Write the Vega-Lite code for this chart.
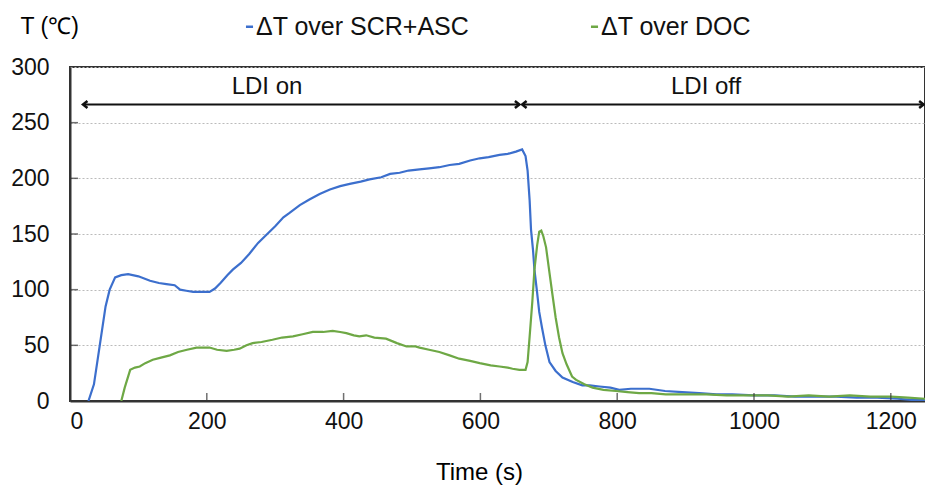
{
  "$schema": "https://vega.github.io/schema/vega-lite/v6.json",
  "width": 855,
  "height": 334,
  "autosize": {"type": "none"},
  "padding": {"left": 70, "top": 67, "right": 0, "bottom": 85},
  "background": "white",
  "config": {
    "font": "Liberation Sans",
    "view": {"stroke": "#333", "strokeWidth": 2}
  },
  "datasets": {
    "series": [
      {"t":27,"v":0,"s":"ΔT over SCR+ASC"},{"t":35,"v":15,"s":"ΔT over SCR+ASC"},{"t":44,"v":52,"s":"ΔT over SCR+ASC"},{"t":52,"v":85,"s":"ΔT over SCR+ASC"},{"t":58,"v":100,"s":"ΔT over SCR+ASC"},{"t":66,"v":111,"s":"ΔT over SCR+ASC"},{"t":75,"v":113,"s":"ΔT over SCR+ASC"},{"t":85,"v":114,"s":"ΔT over SCR+ASC"},{"t":100,"v":112,"s":"ΔT over SCR+ASC"},{"t":117,"v":108,"s":"ΔT over SCR+ASC"},{"t":130,"v":106,"s":"ΔT over SCR+ASC"},{"t":141,"v":105,"s":"ΔT over SCR+ASC"},{"t":153,"v":104,"s":"ΔT over SCR+ASC"},{"t":161,"v":100,"s":"ΔT over SCR+ASC"},{"t":170,"v":99,"s":"ΔT over SCR+ASC"},{"t":180,"v":98,"s":"ΔT over SCR+ASC"},{"t":192,"v":98,"s":"ΔT over SCR+ASC"},{"t":204,"v":98,"s":"ΔT over SCR+ASC"},{"t":212,"v":101,"s":"ΔT over SCR+ASC"},{"t":220,"v":106,"s":"ΔT over SCR+ASC"},{"t":230,"v":113,"s":"ΔT over SCR+ASC"},{"t":238,"v":118,"s":"ΔT over SCR+ASC"},{"t":250,"v":124,"s":"ΔT over SCR+ASC"},{"t":262,"v":132,"s":"ΔT over SCR+ASC"},{"t":275,"v":142,"s":"ΔT over SCR+ASC"},{"t":285,"v":148,"s":"ΔT over SCR+ASC"},{"t":300,"v":157,"s":"ΔT over SCR+ASC"},{"t":312,"v":165,"s":"ΔT over SCR+ASC"},{"t":321,"v":169,"s":"ΔT over SCR+ASC"},{"t":336,"v":176,"s":"ΔT over SCR+ASC"},{"t":350,"v":181,"s":"ΔT over SCR+ASC"},{"t":365,"v":186,"s":"ΔT over SCR+ASC"},{"t":380,"v":190,"s":"ΔT over SCR+ASC"},{"t":395,"v":193,"s":"ΔT over SCR+ASC"},{"t":409,"v":195,"s":"ΔT over SCR+ASC"},{"t":425,"v":197,"s":"ΔT over SCR+ASC"},{"t":438,"v":199,"s":"ΔT over SCR+ASC"},{"t":455,"v":201,"s":"ΔT over SCR+ASC"},{"t":468,"v":204,"s":"ΔT over SCR+ASC"},{"t":482,"v":205,"s":"ΔT over SCR+ASC"},{"t":495,"v":207,"s":"ΔT over SCR+ASC"},{"t":511,"v":208,"s":"ΔT over SCR+ASC"},{"t":525,"v":209,"s":"ΔT over SCR+ASC"},{"t":540,"v":210,"s":"ΔT over SCR+ASC"},{"t":555,"v":212,"s":"ΔT over SCR+ASC"},{"t":569,"v":213,"s":"ΔT over SCR+ASC"},{"t":585,"v":216,"s":"ΔT over SCR+ASC"},{"t":599,"v":218,"s":"ΔT over SCR+ASC"},{"t":612,"v":219,"s":"ΔT over SCR+ASC"},{"t":628,"v":221,"s":"ΔT over SCR+ASC"},{"t":640,"v":222,"s":"ΔT over SCR+ASC"},{"t":652,"v":224,"s":"ΔT over SCR+ASC"},{"t":661,"v":226,"s":"ΔT over SCR+ASC"},{"t":666,"v":220,"s":"ΔT over SCR+ASC"},{"t":669,"v":207,"s":"ΔT over SCR+ASC"},{"t":672,"v":180,"s":"ΔT over SCR+ASC"},{"t":674,"v":154,"s":"ΔT over SCR+ASC"},{"t":677,"v":135,"s":"ΔT over SCR+ASC"},{"t":679,"v":118,"s":"ΔT over SCR+ASC"},{"t":683,"v":97,"s":"ΔT over SCR+ASC"},{"t":686,"v":80,"s":"ΔT over SCR+ASC"},{"t":690,"v":66,"s":"ΔT over SCR+ASC"},{"t":695,"v":50,"s":"ΔT over SCR+ASC"},{"t":701,"v":35,"s":"ΔT over SCR+ASC"},{"t":710,"v":27,"s":"ΔT over SCR+ASC"},{"t":720,"v":21,"s":"ΔT over SCR+ASC"},{"t":735,"v":17,"s":"ΔT over SCR+ASC"},{"t":749,"v":14,"s":"ΔT over SCR+ASC"},{"t":760,"v":14,"s":"ΔT over SCR+ASC"},{"t":774,"v":13,"s":"ΔT over SCR+ASC"},{"t":790,"v":12,"s":"ΔT over SCR+ASC"},{"t":803,"v":10,"s":"ΔT over SCR+ASC"},{"t":820,"v":11,"s":"ΔT over SCR+ASC"},{"t":835,"v":11,"s":"ΔT over SCR+ASC"},{"t":847,"v":11,"s":"ΔT over SCR+ASC"},{"t":870,"v":9,"s":"ΔT over SCR+ASC"},{"t":895,"v":8,"s":"ΔT over SCR+ASC"},{"t":920,"v":7,"s":"ΔT over SCR+ASC"},{"t":945,"v":6,"s":"ΔT over SCR+ASC"},{"t":968,"v":6,"s":"ΔT over SCR+ASC"},{"t":1000,"v":5,"s":"ΔT over SCR+ASC"},{"t":1030,"v":5,"s":"ΔT over SCR+ASC"},{"t":1060,"v":4,"s":"ΔT over SCR+ASC"},{"t":1090,"v":4,"s":"ΔT over SCR+ASC"},{"t":1120,"v":4,"s":"ΔT over SCR+ASC"},{"t":1150,"v":3,"s":"ΔT over SCR+ASC"},{"t":1180,"v":3,"s":"ΔT over SCR+ASC"},{"t":1210,"v":2,"s":"ΔT over SCR+ASC"},{"t":1230,"v":1,"s":"ΔT over SCR+ASC"},{"t":1250,"v":1,"s":"ΔT over SCR+ASC"},
      {"t":75,"v":0,"s":"ΔT over DOC"},{"t":80,"v":12,"s":"ΔT over DOC"},{"t":88,"v":28,"s":"ΔT over DOC"},{"t":95,"v":30,"s":"ΔT over DOC"},{"t":102,"v":31,"s":"ΔT over DOC"},{"t":110,"v":34,"s":"ΔT over DOC"},{"t":121,"v":37,"s":"ΔT over DOC"},{"t":133,"v":39,"s":"ΔT over DOC"},{"t":146,"v":41,"s":"ΔT over DOC"},{"t":158,"v":44,"s":"ΔT over DOC"},{"t":171,"v":46,"s":"ΔT over DOC"},{"t":185,"v":48,"s":"ΔT over DOC"},{"t":195,"v":48,"s":"ΔT over DOC"},{"t":204,"v":48,"s":"ΔT over DOC"},{"t":215,"v":46,"s":"ΔT over DOC"},{"t":229,"v":45,"s":"ΔT over DOC"},{"t":240,"v":46,"s":"ΔT over DOC"},{"t":248,"v":47,"s":"ΔT over DOC"},{"t":258,"v":50,"s":"ΔT over DOC"},{"t":267,"v":52,"s":"ΔT over DOC"},{"t":280,"v":53,"s":"ΔT over DOC"},{"t":296,"v":55,"s":"ΔT over DOC"},{"t":310,"v":57,"s":"ΔT over DOC"},{"t":326,"v":58,"s":"ΔT over DOC"},{"t":340,"v":60,"s":"ΔT over DOC"},{"t":355,"v":62,"s":"ΔT over DOC"},{"t":370,"v":62,"s":"ΔT over DOC"},{"t":384,"v":63,"s":"ΔT over DOC"},{"t":395,"v":62,"s":"ΔT over DOC"},{"t":404,"v":61,"s":"ΔT over DOC"},{"t":415,"v":59,"s":"ΔT over DOC"},{"t":423,"v":58,"s":"ΔT over DOC"},{"t":433,"v":59,"s":"ΔT over DOC"},{"t":445,"v":57,"s":"ΔT over DOC"},{"t":462,"v":56,"s":"ΔT over DOC"},{"t":478,"v":52,"s":"ΔT over DOC"},{"t":492,"v":49,"s":"ΔT over DOC"},{"t":505,"v":49,"s":"ΔT over DOC"},{"t":511,"v":48,"s":"ΔT over DOC"},{"t":525,"v":46,"s":"ΔT over DOC"},{"t":540,"v":44,"s":"ΔT over DOC"},{"t":555,"v":41,"s":"ΔT over DOC"},{"t":569,"v":38,"s":"ΔT over DOC"},{"t":585,"v":36,"s":"ΔT over DOC"},{"t":599,"v":34,"s":"ΔT over DOC"},{"t":615,"v":32,"s":"ΔT over DOC"},{"t":628,"v":31,"s":"ΔT over DOC"},{"t":640,"v":30,"s":"ΔT over DOC"},{"t":647,"v":29,"s":"ΔT over DOC"},{"t":657,"v":28,"s":"ΔT over DOC"},{"t":666,"v":28,"s":"ΔT over DOC"},{"t":669,"v":35,"s":"ΔT over DOC"},{"t":672,"v":58,"s":"ΔT over DOC"},{"t":676,"v":90,"s":"ΔT over DOC"},{"t":679,"v":118,"s":"ΔT over DOC"},{"t":683,"v":140,"s":"ΔT over DOC"},{"t":686,"v":152,"s":"ΔT over DOC"},{"t":689,"v":153,"s":"ΔT over DOC"},{"t":692,"v":148,"s":"ΔT over DOC"},{"t":696,"v":138,"s":"ΔT over DOC"},{"t":701,"v":115,"s":"ΔT over DOC"},{"t":705,"v":97,"s":"ΔT over DOC"},{"t":710,"v":75,"s":"ΔT over DOC"},{"t":715,"v":57,"s":"ΔT over DOC"},{"t":720,"v":43,"s":"ΔT over DOC"},{"t":726,"v":33,"s":"ΔT over DOC"},{"t":734,"v":22,"s":"ΔT over DOC"},{"t":740,"v":19,"s":"ΔT over DOC"},{"t":752,"v":15,"s":"ΔT over DOC"},{"t":764,"v":12,"s":"ΔT over DOC"},{"t":780,"v":10,"s":"ΔT over DOC"},{"t":798,"v":9,"s":"ΔT over DOC"},{"t":815,"v":8,"s":"ΔT over DOC"},{"t":832,"v":7,"s":"ΔT over DOC"},{"t":850,"v":7,"s":"ΔT over DOC"},{"t":871,"v":6,"s":"ΔT over DOC"},{"t":900,"v":6,"s":"ΔT over DOC"},{"t":930,"v":6,"s":"ΔT over DOC"},{"t":960,"v":5,"s":"ΔT over DOC"},{"t":990,"v":5,"s":"ΔT over DOC"},{"t":1020,"v":5,"s":"ΔT over DOC"},{"t":1050,"v":4,"s":"ΔT over DOC"},{"t":1080,"v":5,"s":"ΔT over DOC"},{"t":1110,"v":4,"s":"ΔT over DOC"},{"t":1140,"v":5,"s":"ΔT over DOC"},{"t":1170,"v":4,"s":"ΔT over DOC"},{"t":1200,"v":4,"s":"ΔT over DOC"},{"t":1225,"v":3,"s":"ΔT over DOC"},{"t":1250,"v":2,"s":"ΔT over DOC"}
    ],
    "labels": [
      {"t": 288, "v": 276, "label": "LDI on"},
      {"t": 930, "v": 276, "label": "LDI off"}
    ],
    "arrows": [
      {"t1": 19, "t2": 657, "v": 266.3},
      {"t1": 661, "t2": 1248, "v": 266.3}
    ],
    "heads": [
      {"t": 19, "v": 266.3, "dir": "left"},
      {"t": 657, "v": 266.3, "dir": "right"},
      {"t": 661, "v": 266.3, "dir": "left"},
      {"t": 1248, "v": 266.3, "dir": "right"}
    ],
    "xticks": [{"t": 200}, {"t": 400}, {"t": 600}, {"t": 800}, {"t": 1000}, {"t": 1200}],
    "yticks": [{"v": 50}, {"v": 100}, {"v": 150}, {"v": 200}, {"v": 250}]
  },
  "layer": [
    {
      "data": {"name": "series"},
      "mark": {"type": "line", "strokeWidth": 2.2, "clip": true},
      "encoding": {
        "x": {
          "field": "t", "type": "quantitative",
          "scale": {"domain": [0, 1250], "nice": false, "zero": false},
          "axis": {
            "values": [0, 200, 400, 600, 800, 1000, 1200],
            "format": "d",
            "grid": false,
            "ticks": false,
            "title": "Time (s)",
            "titleFontSize": 24, "titleFontWeight": "normal", "titleColor": "#000",
            "titleX": 409, "titleY": 78, "titleBaseline": "alphabetic",
            "labelFontSize": 23, "labelColor": "#111", "labelPadding": 9,
            "domainColor": "#333", "domainWidth": 2
          }
        },
        "y": {
          "field": "v", "type": "quantitative",
          "scale": {"domain": [0, 300], "nice": false},
          "axis": {
            "values": [0, 50, 100, 150, 200, 250, 300],
            "ticks": false,
            "title": "T (℃)",
            "titleAngle": 0, "titleAlign": "left", "titleBaseline": "alphabetic",
            "titleX": -50, "titleY": -34,
            "titleFontSize": 23, "titleFontWeight": "normal", "titleColor": "#000",
            "labelFontSize": 23, "labelColor": "#111", "labelPadding": 21,
            "domainColor": "#333", "domainWidth": 2,
            "gridColor": "#bbb", "gridDash": [2, 2], "gridWidth": 1
          }
        },
        "color": {
          "field": "s", "type": "nominal",
          "scale": {"domain": ["ΔT over SCR+ASC", "ΔT over DOC"], "range": ["#3C6FCD", "#6EA845"]},
          "legend": {
            "title": null,
            "orient": "none",
            "legendX": 167,
            "legendY": -53,
            "direction": "horizontal",
            "columnPadding": 112,
            "labelFontSize": 25,
            "labelLimit": 0,
            "labelColor": "#111",
            "labelOffset": -6,
            "symbolType": "stroke",
            "symbolSize": 50,
            "symbolStrokeWidth": 2.5
          }
        }
      }
    },
    {
      "data": {"name": "xticks"},
      "mark": {"type": "tick", "orient": "vertical", "color": "#333", "thickness": 1.5, "size": 8, "yOffset": -4},
      "encoding": {
        "x": {"field": "t", "type": "quantitative"},
        "y": {"datum": 0, "type": "quantitative"}
      }
    },
    {
      "data": {"name": "yticks"},
      "mark": {"type": "tick", "orient": "horizontal", "color": "#333", "thickness": 1.5, "size": 8, "xOffset": 4},
      "encoding": {
        "x": {"datum": 0, "type": "quantitative"},
        "y": {"field": "v", "type": "quantitative"}
      }
    },
    {
      "data": {"name": "labels"},
      "mark": {"type": "text", "fontSize": 24, "color": "#111", "align": "center", "baseline": "alphabetic"},
      "encoding": {
        "x": {"field": "t", "type": "quantitative"},
        "y": {"field": "v", "type": "quantitative"},
        "text": {"field": "label"}
      }
    },
    {
      "data": {"name": "arrows"},
      "mark": {"type": "rule", "color": "#111", "strokeWidth": 2},
      "encoding": {
        "x": {"field": "t1", "type": "quantitative"},
        "x2": {"field": "t2"},
        "y": {"field": "v", "type": "quantitative"}
      }
    },
    {
      "data": {"name": "heads"},
      "mark": {"type": "point", "filled": false, "stroke": "#111", "strokeWidth": 2.5, "size": 80, "opacity": 1},
      "encoding": {
        "x": {"field": "t", "type": "quantitative"},
        "y": {"field": "v", "type": "quantitative"},
        "shape": {
          "field": "dir", "type": "nominal",
          "scale": {"domain": ["left", "right"], "range": ["M1,-0.8L0,0L1,0.8", "M-1,-0.8L0,0L-1,0.8"]},
          "legend": null
        }
      }
    }
  ]
}
